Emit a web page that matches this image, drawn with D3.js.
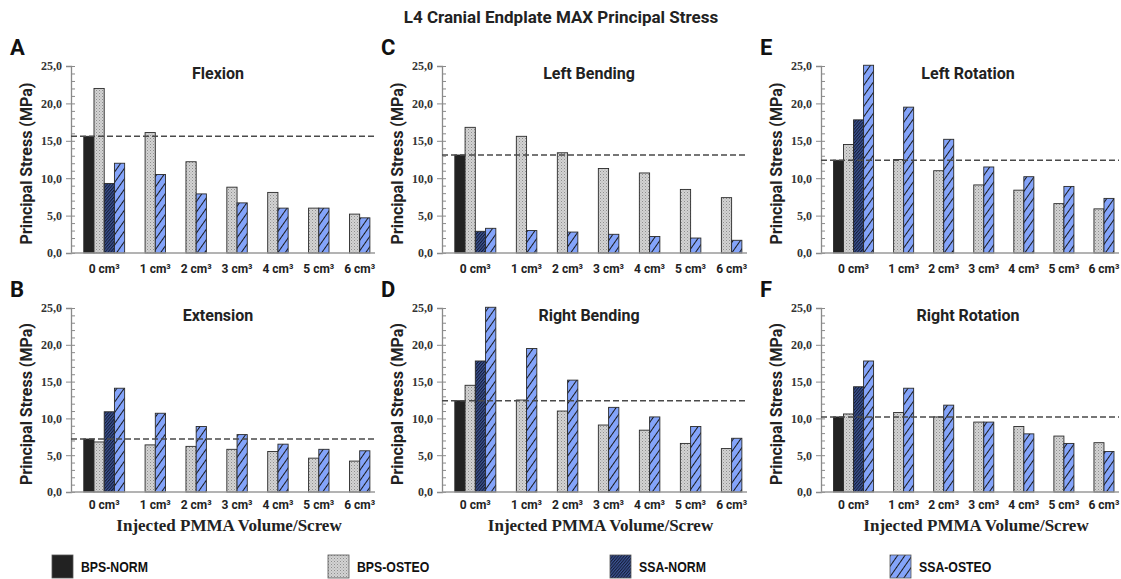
<!DOCTYPE html>
<html>
<head>
<meta charset="utf-8">
<script src="https://cdn.jsdelivr.net/npm/d3@7"></script>
<style>
  body { margin: 0; background: #fff; }
  svg { display: block; }
</style>
</head>
<body>
<div id="chart"></div>
<script>
let sansFont = "Roboto, 'Open Sans', sans-serif"
let serifFont = "'Liberation Serif', 'DejaVu Serif', serif"
let narrowFont = "'Liberation Sans', Arial, sans-serif"

// categories + series
let volumes = ["0 cm³", "1 cm³", "2 cm³", "3 cm³", "4 cm³", "5 cm³", "6 cm³"];
let seriesNames = ["BPS-NORM", "BPS-OSTEO", "SSA-NORM", "SSA-OSTEO"];
let yTicks = [0, 5, 10, 15, 20, 25];

// values per panel: [BPS-NORM, BPS-OSTEO, SSA-NORM, SSA-OSTEO] (MPa)
let flexion = [
    [15.6, null, null, null, null, null, null],
    [22.0, 16.1, 12.2, 8.8, 8.1, 6.0, 5.2],
    [9.3, null, null, null, null, null, null],
    [12.0, 10.5, 7.9, 6.7, 6.0, 6.0, 4.7]
];
let extension = [
    [7.2, null, null, null, null, null, null],
    [6.8, 6.4, 6.2, 5.8, 5.5, 4.6, 4.2],
    [10.9, null, null, null, null, null, null],
    [14.1, 10.7, 8.9, 7.8, 6.5, 5.8, 5.6]
];
let leftBending = [
    [13.1, null, null, null, null, null, null],
    [16.8, 15.6, 13.4, 11.3, 10.7, 8.5, 7.4],
    [2.9, null, null, null, null, null, null],
    [3.3, 3.0, 2.8, 2.5, 2.2, 2.0, 1.7]
];
let rightBending = [
    [12.4, null, null, null, null, null, null],
    [14.5, 12.5, 11.0, 9.1, 8.4, 6.6, 5.9],
    [17.8, null, null, null, null, null, null],
    [25.1, 19.5, 15.2, 11.5, 10.2, 8.9, 7.3]
];
let leftRotation = [
    [12.4, null, null, null, null, null, null],
    [14.5, 12.5, 11.0, 9.1, 8.4, 6.6, 5.9],
    [17.8, null, null, null, null, null, null],
    [25.1, 19.5, 15.2, 11.5, 10.2, 8.9, 7.3]
];
let rightRotation = [
    [10.2, null, null, null, null, null, null],
    [10.6, 10.8, 10.2, 9.5, 8.9, 7.6, 6.7],
    [14.3, null, null, null, null, null, null],
    [17.8, 14.1, 11.8, 9.5, 7.9, 6.6, 5.5]
];

let panels = [
    { letter: "A", title: "Flexion", werte: flexion, col: 0, row: 0 },
    { letter: "B", title: "Extension", werte: extension, col: 0, row: 1 },
    { letter: "C", title: "Left Bending", werte: leftBending, col: 1, row: 0 },
    { letter: "D", title: "Right Bending", werte: rightBending, col: 1, row: 1 },
    { letter: "E", title: "Left Rotation", werte: leftRotation, col: 2, row: 0 },
    { letter: "F", title: "Right Rotation", werte: rightRotation, col: 2, row: 1 }
];

// layout
let width = 1121, height = 579;
let colAxis = [71, 442, 821], colRight = [375, 747, 1119];
let rowTop = [66, 308], rowBottom = [253, 492];
let xLabelGap = [20, 17];
let leadSlots = 1.25, gapSlots = 2, tailSlots = 0.5;

let svg = d3.select("#chart").append("svg")
    .attr("width", width)
    .attr("height", height);

// fill patterns
let defs = svg.append("defs");

let pDots = defs.append("pattern").attr("id", "pat1")
    .attr("width", 3).attr("height", 3).attr("patternUnits", "userSpaceOnUse");
pDots.append("rect").attr("width", 3).attr("height", 3).attr("fill", "#d3d3d3");
pDots.append("rect").attr("x", 0).attr("y", 0).attr("width", 1).attr("height", 1).attr("fill", "#8e8e8e");
pDots.append("rect").attr("x", 1.5).attr("y", 1.5).attr("width", 1).attr("height", 1).attr("fill", "#a8a8a8");

let pNorm = defs.append("pattern").attr("id", "pat2")
    .attr("width", 2.2).attr("height", 6).attr("patternUnits", "userSpaceOnUse")
    .attr("patternTransform", "rotate(40)");
pNorm.append("rect").attr("width", 2.2).attr("height", 6).attr("fill", "#3e5595");
pNorm.append("line").attr("x1", 0.5).attr("y1", 0).attr("x2", 0.5).attr("y2", 6)
    .attr("stroke", "#141d38").attr("stroke-width", 1.1);

let pOsteo = defs.append("pattern").attr("id", "pat3")
    .attr("width", 6).attr("height", 10).attr("patternUnits", "userSpaceOnUse")
    .attr("patternTransform", "rotate(35)");
pOsteo.append("rect").attr("width", 6).attr("height", 10).attr("fill", "#84a4fa");
pOsteo.append("line").attr("x1", 0.5).attr("y1", 0).attr("x2", 0.5).attr("y2", 10)
    .attr("stroke", "#1a1a1a").attr("stroke-width", 1);

let fills = ["#222222", "url(#pat1)", "url(#pat2)", "url(#pat3)"];

// main title
svg.append("text")
    .attr("x", 561).attr("y", 23)
    .attr("text-anchor", "middle")
    .attr("font-family", sansFont).attr("font-weight", "bold")
    .attr("font-size", "17px").attr("fill", "#222")
    .text("L4 Cranial Endplate MAX Principal Stress");

function fmt(d) {
    return d.toFixed(1).replace(".", ",");
}

function zeichnePanel(p) {
    let x0 = colAxis[p.col], x1 = colRight[p.col];
    let top = rowTop[p.row], bottom = rowBottom[p.row];

    // bars that exist per category
    let gruppen = volumes.map(function (v, ci) {
        let items = [];
        p.werte.forEach(function (reihe, si) {
            if (reihe[ci] != null) items.push({ serie: si, val: reihe[ci] });
        });
        return { key: v, items: items };
    });
    let start = leadSlots;
    gruppen.forEach(function (g, gi) {
        g.start = start;
        start += g.items.length + (gi < gruppen.length - 1 ? gapSlots : 0);
    });
    let totalSlots = start + tailSlots;

    let x = d3.scaleLinear().domain([0, totalSlots]).range([x0, x1]);
    let y = d3.scaleLinear().domain([0, 25]).range([bottom, top]);

    let g = svg.append("g");

    // bars
    let balken = [];
    gruppen.forEach(function (gr) {
        gr.items.forEach(function (it, k) {
            balken.push({ slot: gr.start + k, serie: it.serie, val: it.val });
        });
    });
    g.selectAll(".bar").data(balken).enter().append("rect")
        .attr("class", "bar")
        .attr("x", function (d) { return x(d.slot); })
        .attr("width", function (d) { return x(d.slot + 1) - x(d.slot); })
        .attr("y", function (d) { return y(d.val); })
        .attr("height", function (d) { return bottom - y(d.val); })
        .attr("fill", function (d) { return fills[d.serie]; })
        .attr("stroke", "#2a2a2a")
        .attr("stroke-width", 0.9);

    // y axis (major outward, minor inward)
    let yAxis = g.append("g")
        .attr("transform", "translate(" + x0 + ",0)")
        .call(d3.axisLeft(y).tickValues(yTicks).tickSize(5).tickPadding(4).tickFormat(fmt));
    yAxis.select(".domain").attr("stroke", "#8a8a8a").attr("stroke-width", 1.3);
    yAxis.selectAll(".tick line").attr("stroke", "#8a8a8a");
    yAxis.selectAll("text")
        .attr("font-family", serifFont).attr("font-weight", "bold")
        .attr("font-size", "12px").attr("fill", "#333");

    let minor = g.append("g")
        .attr("transform", "translate(" + x0 + ",0)")
        .call(d3.axisRight(y).tickValues(d3.range(0, 26, 1)).tickSize(4).tickFormat(""));
    minor.select(".domain").remove();
    minor.selectAll(".tick line").attr("stroke", "#8a8a8a");

    // x axis line
    g.append("line")
        .attr("x1", x0).attr("x2", x1)
        .attr("y1", bottom).attr("y2", bottom)
        .attr("stroke", "#9a9a9a").attr("stroke-width", 1.5);

    // x labels
    g.selectAll(".xlab").data(gruppen).enter().append("text")
        .attr("class", "xlab")
        .attr("x", function (d) { return x(d.start + d.items.length / 2); })
        .attr("y", bottom + xLabelGap[p.row])
        .attr("text-anchor", "middle")
        .attr("font-family", sansFont).attr("font-weight", "bold")
        .attr("font-size", "12px").attr("fill", "#222")
        .text(function (d) { return d.key; });

    // reference line at BPS-NORM
    g.append("line")
        .attr("x1", x0).attr("x2", x1)
        .attr("y1", y(p.werte[0][0])).attr("y2", y(p.werte[0][0]))
        .attr("stroke", "#4a4a4a").attr("stroke-width", 1.4)
        .attr("stroke-dasharray", "6,3");

    // titles
    g.append("text")
        .attr("x", x0 + 147).attr("y", top + 13)
        .attr("text-anchor", "middle")
        .attr("font-family", sansFont).attr("font-weight", "bold")
        .attr("font-size", "16px").attr("fill", "#222")
        .text(p.title);

    g.append("text")
        .attr("x", x0 - 61).attr("y", top - 11)
        .attr("font-family", sansFont).attr("font-weight", "bold")
        .attr("font-size", "22px").attr("fill", "#111")
        .text(p.letter);

    g.append("text")
        .attr("transform", "translate(" + (x0 - 39) + "," + ((top + bottom) / 2 + 4) + ") rotate(-90)")
        .attr("text-anchor", "middle")
        .attr("font-family", sansFont).attr("font-weight", "bold")
        .attr("font-size", "16px").attr("fill", "#222")
        .text("Principal Stress (MPa)");

    if (p.row == 1) {
        g.append("text")
            .attr("x", (x0 + x1) / 2 + 6).attr("y", bottom + 39)
            .attr("text-anchor", "middle")
            .attr("font-family", serifFont).attr("font-weight", "bold")
            .attr("font-size", "17px").attr("fill", "#222")
            .text("Injected PMMA Volume/Screw");
    }
}

panels.forEach(zeichnePanel);

// legend
let legX = [52, 328, 610, 890];
let legende = svg.selectAll(".leg").data(seriesNames).enter().append("g")
    .attr("class", "leg")
    .attr("transform", function (d, i) { return "translate(" + legX[i] + ",555)"; });
legende.append("rect")
    .attr("width", 21).attr("height", 23)
    .attr("fill", function (d, i) { return fills[i]; })
    .attr("stroke", "#555").attr("stroke-width", 0.8);
legende.append("text")
    .attr("transform", "translate(29,17) scale(0.82,1)")
    .attr("font-family", narrowFont).attr("font-weight", "bold")
    .attr("font-size", "15px").attr("fill", "#111")
    .text(function (d) { return d; });
</script>
</body>
</html>
